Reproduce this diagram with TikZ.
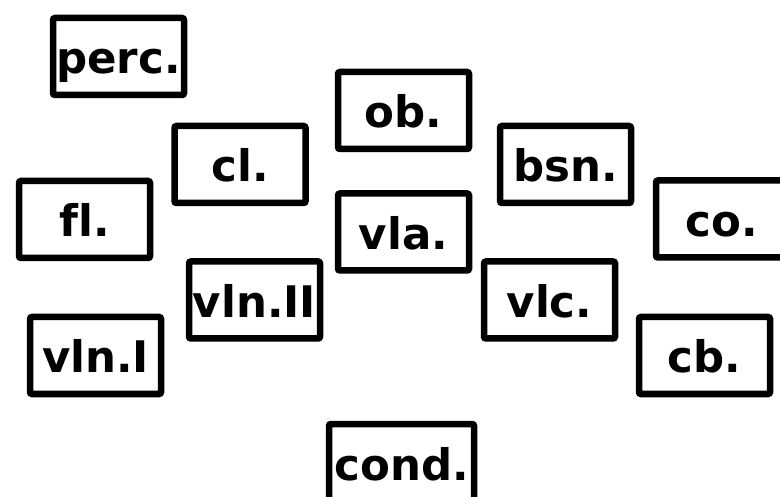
\documentclass[tikz,border=0pt]{standalone}
\usepackage{fontspec}
\setmainfont[Ligatures=NoCommon]{DejaVu Sans}
\begin{document}
\begin{tikzpicture}[x=1pt,y=-1pt,
  inst/.style={draw=black, line width=6.5pt, rounded corners=2pt, inner sep=0pt,
    minimum width=131pt, minimum height=77pt, text height=35pt, text depth=0pt,
    font=\fontsize{43.5}{43.5}\selectfont\bfseries}]
\useasboundingbox (0,0) rectangle (780,497);
\node[inst] (perc) at (118.5,56.5) {perc.};
\node[inst] (ob) at (403.5,110.5) {ob.};
\node[inst] (cl) at (240,164.5) {cl.};
\node[inst] (bsn) at (565.5,164.5) {bsn.};
\node[inst] (fl) at (84.5,219.5) {fl.};
\node[inst] (co) at (721.5,219) {co.};
\node[inst] (vla) at (403.5,232) {vla.};
\node[inst] (vlnII) at (254.5,300) {vln.II};
\node[inst] (vlc) at (549.5,300) {vlc.};
\node[inst] (vlnI) at (95.5,355.5) {vln.I};
\node[inst] (cb) at (704.5,355.5) {cb.};
\node[inst, minimum width=145pt] (cond) at (401.5,462.5) {cond.};
\end{tikzpicture}
\end{document}
